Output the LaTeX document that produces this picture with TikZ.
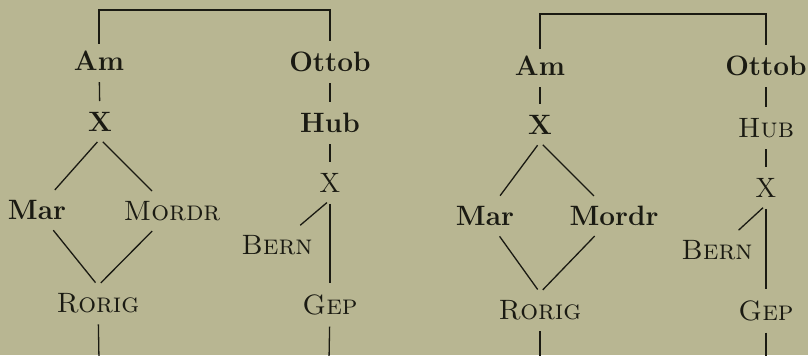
\documentclass[tikz,border=0pt]{standalone}
\usetikzlibrary{positioning}
\definecolor{papier}{RGB}{184,182,146}
\definecolor{tinte}{RGB}{26,26,18}

\tikzset{
  wit/.style={inner sep=3.5pt, text=tinte, font=\fontsize{14}{16}\selectfont},
  bwit/.style={wit, font=\fontsize{14}{16}\selectfont\bfseries},
  scwit/.style={wit, font=\fontsize{14}{16}\selectfont\scshape},
  stem/.style={draw=tinte, line width=0.65pt, shorten >=2pt, shorten <=2pt},
}

\begin{document}
\begin{tikzpicture}[x=0.5pt, y=-0.5pt]

	\fill[papier] (0,0) rectangle (808,355);
	\useasboundingbox (0,0) rectangle (808,355);

	% first stemma
	\node[bwit] (am1) at (99,61) {Am};
	\node[bwit] (ottob1) at (330,62) {Ottob};
	\node[bwit] (x1) at (100,122) {X};
	\node[bwit] (hub1) at (330,123) {Hub};
	\node[bwit] (mar1) at (37,210) {Mar};
	\node[scwit] (mordr1) at (172,211) {Mordr};
	\node[wit] (xx1) at (330,183) {X};
	\node[scwit] (bern1) at (277,245) {Bern};
	\node[scwit] (rorig1) at (98,303) {Rorig};
	\node[scwit] (gep1) at (330,305) {Gep};
	\coordinate (top1) at (99,10);
	\coordinate (end1) at (99,360);
	\coordinate (end2) at (329,360);

	\draw[stem, shorten <=0pt, shorten >=2pt] (am1) |- (top1) -| (ottob1);
	\draw[stem] (am1) -- (x1);
	\draw[stem] (x1.south) -- (mar1);
	\draw[stem] (x1.south) -- (mordr1);
	\draw[stem] (mar1) -- (rorig1.north);
	\draw[stem] (mordr1) -- (rorig1.north);
	\draw[stem] (ottob1) -- (hub1);
	\draw[stem] (hub1) -- (xx1);
	\draw[stem] (xx1.south) -- (bern1);
	\draw[stem] (xx1) -- (gep1);
	\draw[stem, shorten >=0pt] (rorig1) -- (end1);
	\draw[stem, shorten >=0pt] (gep1) -- (end2);

	% second stemma
	\node[bwit] (am2) at (540,66) {Am};
	\node[bwit] (ottob2) at (766,66) {Ottob};
	\node[bwit] (x2) at (540,125) {X};
	\node[scwit] (hub2) at (766,128) {Hub};
	\node[bwit] (mar2) at (485,216) {Mar};
	\node[bwit] (mordr2) at (614,216) {Mordr};
	\node[wit] (xx2) at (766,188) {X};
	\node[scwit] (bern2) at (717,250) {Bern};
	\node[scwit] (rorig2) at (540,310) {Rorig};
	\node[scwit] (gep2) at (766,311) {Gep};
	\coordinate (top2) at (540,14);
	\coordinate (end3) at (540,360);
	\coordinate (end4) at (766,360);

	\draw[stem, shorten <=0pt, shorten >=2pt] (am2) |- (top2) -| (ottob2);
	\draw[stem] (am2) -- (x2);
	\draw[stem] (x2.south) -- (mar2);
	\draw[stem] (x2.south) -- (mordr2);
	\draw[stem] (mar2) -- (rorig2.north);
	\draw[stem] (mordr2) -- (rorig2.north);
	\draw[stem] (ottob2) -- (hub2);
	\draw[stem] (hub2) -- (xx2);
	\draw[stem] (xx2.south) -- (bern2);
	\draw[stem] (xx2) -- (gep2);
	\draw[stem, shorten >=0pt] (rorig2) -- (end3);
	\draw[stem, shorten >=0pt] (gep2) -- (end4);

\end{tikzpicture}
\end{document}
